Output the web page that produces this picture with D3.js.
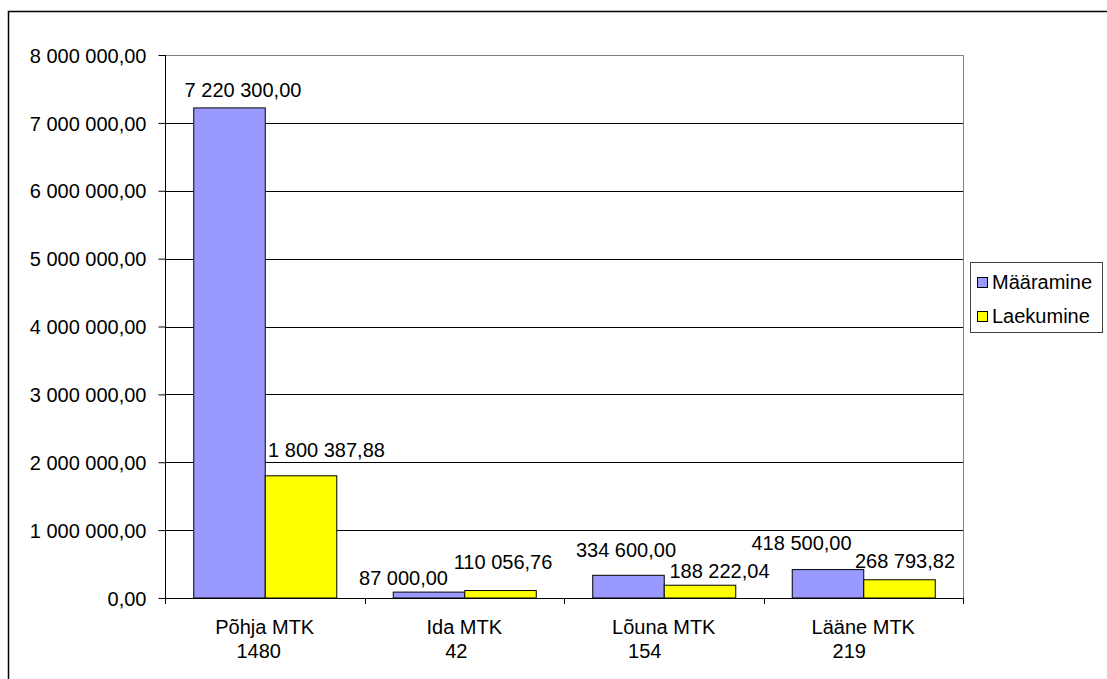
<!DOCTYPE html>
<html>
<head>
<meta charset="utf-8">
<script src="https://cdn.jsdelivr.net/npm/d3@7"></script>
<style>
  body { margin: 0; background: #fff; }
  svg { font-family: "Liberation Sans", Arial, sans-serif; }
</style>
</head>
<body>
<svg id="chart" width="1107" height="679"></svg>
<script>
// Data
const regions = ["Põhja MTK", "Ida MTK", "Lõuna MTK", "Lääne MTK"];
const counts = ["1480", "42", "154", "219"];
const seriesNames = ["Määramine", "Laekumine"];
const maaramine = [7220300.00, 87000.00, 334600.00, 418500.00];
const laekumine = [1800387.88, 110056.76, 188222.04, 268793.82];
const yTicks = [0, 1e6, 2e6, 3e6, 4e6, 5e6, 6e6, 7e6, 8e6];

const colors = ["#9999ff", "#ffff00"];
const fontSize = 20;

// label nudges (hand placed in the original), [dx, gap above bar]
const labelNudge = [
    [[14, 11], [26, 19]],
    [[-25, 7], [3, 22]],
    [[-2, 18], [20, 7]],
    [[-26, 20], [6, 12]]
];
const countShift = [-6, -8, -19, -14];

const svg = d3.select("#chart");

const locale = d3.formatLocale({ decimal: ",", thousands: " ", grouping: [3], currency: ["", ""] });
const fmt = locale.format(",.2f");

// Outer chart border
svg.append("rect")
    .attr("x", 8.5).attr("y", 11.5)
    .attr("width", 1300).attr("height", 900)
    .attr("fill", "none").attr("stroke", "#000").attr("stroke-width", 1.5);

const plot = { left: 165, right: 963, top: 55, bottom: 598 };

const xScale = d3.scaleBand()
    .domain(regions)
    .range([plot.left, plot.right]);

const xSub = d3.scaleBand()
    .domain(seriesNames)
    .range([0, xScale.bandwidth()])
    .paddingOuter(0.395);

const yScale = d3.scaleLinear()
    .domain([0, 8e6])
    .range([plot.bottom, plot.top]);

// Gridlines
svg.append("g")
    .selectAll("line")
    .data(yTicks.slice(1, -1))
    .join("line")
    .attr("x1", plot.left).attr("x2", plot.right)
    .attr("y1", d => Math.round(yScale(d)) + 0.5)
    .attr("y2", d => Math.round(yScale(d)) + 0.5)
    .attr("stroke", "#000");

// Plot area border (top + right)
svg.append("path")
    .attr("d", `M${plot.left},${plot.top + 0.5}H${plot.right + 0.5}V${plot.bottom}`)
    .attr("fill", "none").attr("stroke", "#808080");

// Bars
const rows = regions.map((r, i) => ({ region: r, i, values: [maaramine[i], laekumine[i]] }));

const groups = svg.append("g")
    .selectAll("g")
    .data(rows)
    .join("g")
    .attr("transform", d => `translate(${xScale(d.region)},0)`);

groups.selectAll("rect")
    .data(d => d.values.map((v, j) => ({ v, j, name: seriesNames[j] })))
    .join("rect")
    .attr("x", d => xSub(d.name) + 0.5)
    .attr("y", d => yScale(d.v))
    .attr("width", xSub.bandwidth())
    .attr("height", d => yScale(0) - yScale(d.v))
    .attr("fill", d => colors[d.j])
    .attr("stroke", "#000")
    .attr("stroke-width", 1);

// Value labels
groups.selectAll("text")
    .data(d => d.values.map((v, j) => ({ v, j, name: seriesNames[j], i: d.i })))
    .join("text")
    .attr("x", d => xSub(d.name) + xSub.bandwidth() / 2 + labelNudge[d.i][d.j][0])
    .attr("y", d => yScale(d.v) - labelNudge[d.i][d.j][1])
    .attr("text-anchor", "middle")
    .attr("font-size", fontSize)
    .attr("fill", "#000")
    .text(d => fmt(d.v));

// Y axis
const yAxis = svg.append("g")
    .attr("transform", `translate(${plot.left + 0.5},0)`)
    .call(d3.axisLeft(yScale).tickValues(yTicks).tickSize(7).tickPadding(12).tickFormat(fmt));
yAxis.select(".domain").attr("d", `M0,${plot.top}V${plot.bottom}`).attr("stroke", "#000");
yAxis.selectAll(".tick line").attr("stroke", "#000");
yAxis.selectAll(".tick text")
    .attr("font-size", fontSize)
    .attr("font-family", "Liberation Sans, Arial, sans-serif")
    .attr("fill", "#000")
    .attr("dy", "0.36em");

// X axis
const xg = svg.append("g");
xg.append("line")
    .attr("x1", plot.left).attr("x2", plot.right + 1)
    .attr("y1", plot.bottom + 0.5).attr("y2", plot.bottom + 0.5)
    .attr("stroke", "#000");
const bounds = regions.map(r => xScale(r)).concat([xScale.range()[1]]);
xg.selectAll("line.tk")
    .data(bounds)
    .join("line")
    .attr("class", "tk")
    .attr("x1", d => Math.round(d) + 0.5).attr("x2", d => Math.round(d) + 0.5)
    .attr("y1", plot.bottom).attr("y2", plot.bottom + 6)
    .attr("stroke", "#000");

const cat = xg.selectAll("text")
    .data(regions)
    .join("text")
    .attr("text-anchor", "middle")
    .attr("font-size", fontSize)
    .attr("fill", "#000");
cat.append("tspan")
    .attr("x", d => xScale(d) + xScale.bandwidth() / 2)
    .attr("y", 634)
    .text(d => d);
cat.append("tspan")
    .attr("x", (d, i) => xScale(d) + xScale.bandwidth() / 2 + countShift[i])
    .attr("y", 658)
    .text((d, i) => counts[i]);

// Legend
const legend = svg.append("g");
legend.append("rect")
    .attr("x", 970.5).attr("y", 262.5)
    .attr("width", 132).attr("height", 70)
    .attr("fill", "#fff").attr("stroke", "#404040");
const items = legend.selectAll("g")
    .data(seriesNames)
    .join("g")
    .attr("transform", (d, i) => `translate(0,${i * 34})`);
items.append("rect")
    .attr("x", 977.5).attr("y", 277.5)
    .attr("width", 10).attr("height", 10)
    .attr("fill", (d, i) => colors[i])
    .attr("stroke", "#000");
items.append("text")
    .attr("x", 992).attr("y", 289)
    .attr("font-size", fontSize)
    .attr("fill", "#000")
    .text(d => d);
</script>
</body>
</html>
